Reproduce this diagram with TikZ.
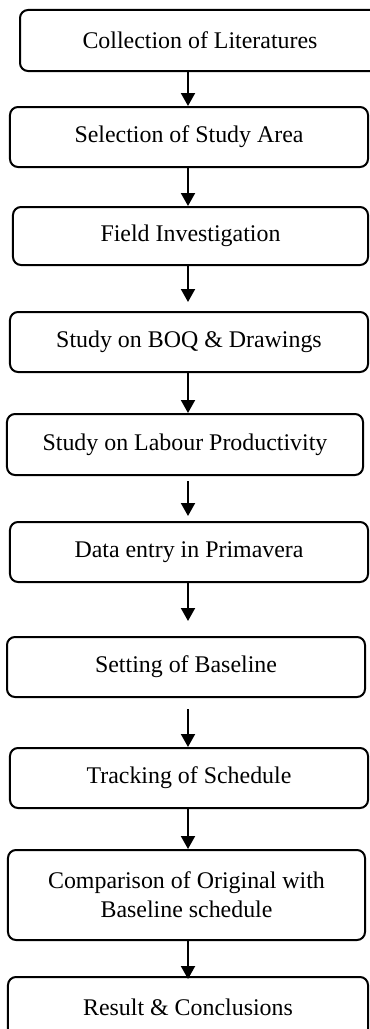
\documentclass[tikz,border=0pt]{standalone}
\usepackage{fontspec}
\setmainfont{Liberation Serif}
\usetikzlibrary{arrows.meta}

\begin{document}
\begin{tikzpicture}[>={Triangle[width=2.8mm, length=2.6mm]},
		stage/.style={draw, rectangle, rounded corners=1.6mm, line width=0.4mm, minimum width=71.6mm, minimum height=12mm, inner sep=0pt, align=center, font=\fontsize{13.6}{16.5}\selectfont},
		flow/.style={->, line width=0.4mm}]
		\useasboundingbox (0, 0) rectangle (7.38, -20.58);
		\node[stage, minimum width=72mm, minimum height=12.2mm] (literature) at (4.00, -0.81) {Collection of Literatures};
		\node[stage] (area) at (3.78, -2.74) {Selection of Study Area};
		\node[stage, minimum width=71mm, minimum height=11.6mm] (field) at (3.81, -4.72) {Field Investigation};
		\node[stage] (boq) at (3.78, -6.84) {Study on BOQ \& Drawings};
		\node[stage, minimum width=71.2mm, minimum height=12.2mm] (labour) at (3.70, -8.89) {Study on Labour Productivity};
		\node[stage] (entry) at (3.78, -11.04) {Data entry in Primavera};
		\node[stage] (baseline) at (3.72, -13.34) {Setting of Baseline};
		\node[stage] (tracking) at (3.78, -15.56) {Tracking of Schedule};
		\node[stage, minimum width=71.4mm, minimum height=18mm] (comparison) at (3.73, -17.90) {Comparison of Original with\\Baseline schedule};
		\node[stage, minimum width=72mm] (result) at (3.76, -20.14) {Result \& Conclusions};
		\coordinate (axis) at (3.76, 0);
		\draw [flow] (literature.south -| axis) -- (area.north -| axis);
		\draw [flow] (area.south -| axis) -- (field.north -| axis);
		\draw [flow, shorten >=1.8mm] (field.south -| axis) -- (boq.north -| axis);
		\draw [flow] (boq.south -| axis) -- (labour.north -| axis);
		\draw [flow, shorten <=1mm, shorten >=1mm] (labour.south -| axis) -- (entry.north -| axis);
		\draw [flow, shorten >=3mm] (entry.south -| axis) -- (baseline.north -| axis);
		\draw [flow, shorten <=2.2mm] (baseline.south -| axis) -- (tracking.north -| axis);
		\draw [flow] (tracking.south -| axis) -- (comparison.north -| axis);
		\draw [flow, shorten >=-0.6mm] (comparison.south -| axis) -- (result.north -| axis);
	\end{tikzpicture}
\end{document}
